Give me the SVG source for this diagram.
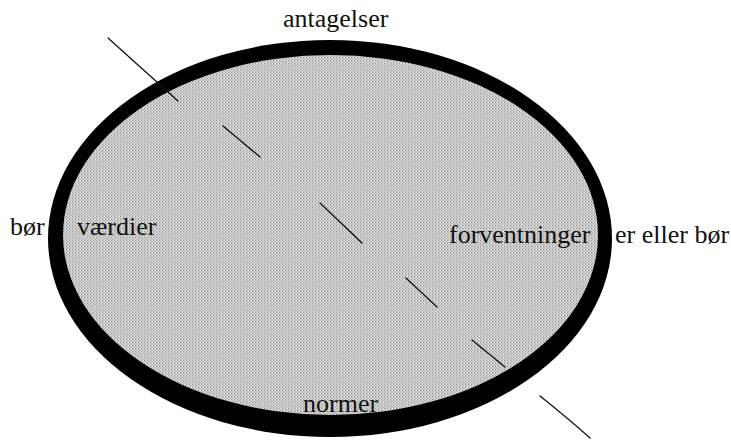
<svg xmlns="http://www.w3.org/2000/svg" width="731" height="440" viewBox="0 0 731 440">
  <style>
    .lbl { font-family: "Liberation Serif", "Times New Roman", serif; font-size: 26px; fill: #111; }
    .dash { stroke: #111; stroke-width: 1.3; fill: none; stroke-linecap: round; }
  </style>
  <defs>
    <pattern id="stipple" width="3" height="3" patternUnits="userSpaceOnUse">
      <rect width="3" height="3" fill="#cfcfcf"/>
      <rect x="0" y="0" width="1" height="1" fill="#8c8c8c"/>
      <rect x="1.5" y="1.5" width="1" height="1" fill="#9c9c9c"/>
      <rect x="2" y="0" width="1" height="1" fill="#eeeeee"/>
    </pattern>
  </defs>
  <rect width="731" height="440" fill="#ffffff"/>
  <g id="ellipse">
    <ellipse cx="330" cy="238.5" rx="282" ry="198.5" fill="#000"/>
    <ellipse cx="330.5" cy="235" rx="267.5" ry="180" fill="url(#stipple)"/>
  </g>
  <g id="connectors">
    <path class="dash" d="M108,38 L178,101"/>
    <path class="dash" d="M223,126 L260,157"/>
    <path class="dash" d="M320,203 L362,243"/>
    <path class="dash" d="M406,278 L437,307"/>
    <path class="dash" d="M472,340 L505,367"/>
    <path class="dash" d="M540,396 Q570,420 590,438"/>
  </g>
  <g id="label-antagelser"><text class="lbl" x="283" y="27">antagelser</text></g>
  <g id="label-bor"><text class="lbl" x="10" y="235">bør</text></g>
  <g id="label-vaerdier"><text class="lbl" x="77" y="235">værdier</text></g>
  <g id="label-forventninger"><text class="lbl" x="449" y="243">forventninger</text></g>
  <g id="label-er-eller-bor"><text class="lbl" x="615" y="243">er eller bør</text></g>
  <g id="label-normer"><text class="lbl" x="303" y="412">normer</text></g>
</svg>
